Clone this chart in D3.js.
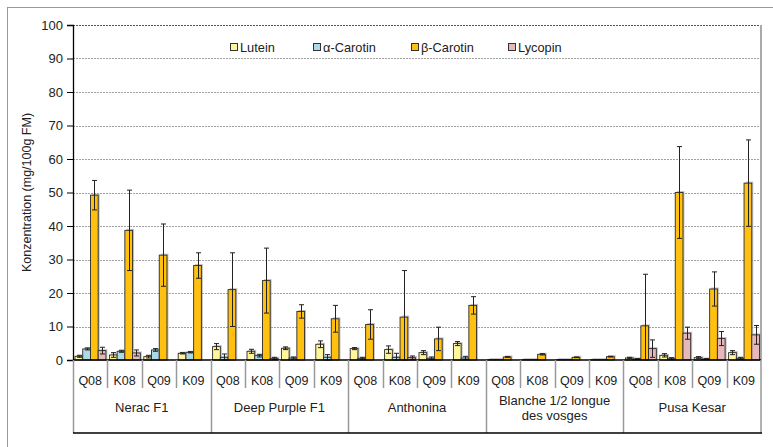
<!DOCTYPE html>
<html><head><meta charset="utf-8">
<script src="https://cdn.jsdelivr.net/npm/d3@7"></script>
<style>body{margin:0;background:#fff}svg{display:block;font-family:"Liberation Sans",Arial,sans-serif}</style>
</head><body><svg id="c" width="773" height="447"></svg>
<script>
const groups = ["Nerac F1","Deep Purple F1","Anthonina","Blanche 1/2 longue\ndes vosges","Pusa Kesar"];
const subcats = ["Q08","K08","Q09","K09"];
const seriesNames = ["Lutein","α-Carotin","β-Carotin","Lycopin"];
const seriesColors = ["#FFF59A","#ADD8E6","#FFC010","#E6B8B8"];
const lutein    = [1.1,1.5,1.0,2.0, 4.0,2.6,3.5,4.7, 3.4,3.1,2.2,4.9, 0.1,0.1,0.1,0.1, 0.6,1.4,0.7,2.2];
const luteinErr = [0.3,0.7,0.4,0.2, 0.9,0.6,0.4,1.0, 0.3,1.1,0.6,0.6, 0,0,0,0, 0.2,0.5,0.3,0.6];
const alpha     = [3.3,2.6,3.0,2.3, 0.8,1.3,0.6,0.8, 0.5,0.8,0.5,0.6, 0.1,0.1,0.1,0.1, 0.3,0.4,0.3,0.5];
const alphaErr  = [0.3,0.3,0.4,0.2, 1.0,0.4,0.3,0.8, 0.3,1.2,0.4,0.5, 0,0,0,0, 0.1,0.3,0.1,0.3];
const beta      = [49.2,38.7,31.3,28.2, 21.0,23.7,14.5,12.3, 10.6,12.8,6.3,16.3, 0.9,1.7,0.8,1.0, 10.2,50.0,21.2,52.8];
const betaErr   = [4.4,12.0,9.3,3.8, 11.0,9.7,2.0,4.0, 4.4,13.9,3.5,2.6, 0.1,0.2,0.1,0.1, 15.4,13.7,5.1,12.9];
const lycopin   = [2.8,2.1,0,0, 0,0.5,0,0, 0,0.7,0,0, 0,0,0,0, 3.4,8.0,6.4,7.5];
const lycopinErr= [1.0,0.9,0,0, 0,0.3,0,0, 0,0.5,0,0, 0,0,0,0, 2.6,1.8,2.1,2.8];
const yTicks = [0,10,20,30,40,50,60,70,80,90,100];
const yTitle = "Konzentration (mg/100g FM)";

const values = [lutein, alpha, beta, lycopin];
const errors = [luteinErr, alphaErr, betaErr, lycopinErr];

const svg = d3.select("#c");
const L = 73, R = 761, T = 25, B = 360;
const keys = d3.range(groups.length * subcats.length);
const x = d3.scaleBand().domain(keys).range([L, R]);
const xs = d3.scaleBand().domain(seriesNames).range([2, x.bandwidth() - 1.5]);
const y = d3.scaleLinear().domain([0, 100]).range([B, T]);

// outer border
svg.append("rect").attr("x",7.5).attr("y",7.5).attr("width",800).attr("height",500)
  .attr("fill","none").attr("stroke","#999").attr("stroke-width",1);

// gridlines
svg.append("g").selectAll("line").data(yTicks.filter(d=>d>0)).join("line")
  .attr("x1",L).attr("x2",R).attr("y1",d=>Math.round(y(d))+0.5).attr("y2",d=>Math.round(y(d))+0.5)
  .attr("stroke",d=>d===100?"#555":"#a0a0a0").attr("stroke-dasharray","2,1").attr("stroke-width",1);
// right plot border
svg.append("line").attr("x1",R).attr("x2",R).attr("y1",T).attr("y2",B).attr("stroke","#aaa").attr("stroke-width",2);

// y axis
const yAxis = d3.axisLeft(y).tickValues(yTicks).tickSize(6).tickPadding(4);
const ga = svg.append("g").attr("transform",`translate(${L},0)`).call(yAxis);
ga.select(".domain").attr("stroke","#000").attr("stroke-width",1.3);
ga.selectAll(".tick line").attr("stroke","#000");
ga.selectAll("text").attr("font-size",13).attr("fill","#222").attr("font-family","Liberation Sans, Arial, sans-serif");

svg.append("text").attr("transform",`translate(31,${(T+B)/2}) rotate(-90)`)
  .attr("text-anchor","middle").attr("font-size",12.5).attr("fill","#222").text(yTitle);

// bars
const bars = [];
values.forEach((arr, s) => arr.forEach((v, i) => bars.push({s, i, v, e: errors[s][i]})));
const gb = svg.append("g");
const drawn = bars.filter(d => d.v > 0);
gb.selectAll("rect.sh").data(drawn).join("rect").attr("class","sh")
  .attr("x", d => x(d.i) + xs(seriesNames[d.s]) + 1.5)
  .attr("y", d => y(d.v) - 1.5)
  .attr("width", xs.bandwidth())
  .attr("height", d => B - y(d.v) + 1)
  .attr("fill", "#999").attr("opacity", 0.6);
gb.selectAll("rect.b").data(drawn).join("rect").attr("class","b")
  .attr("x", d => x(d.i) + xs(seriesNames[d.s]))
  .attr("y", d => y(d.v))
  .attr("width", xs.bandwidth())
  .attr("height", d => B - y(d.v))
  .attr("fill", d => seriesColors[d.s]).attr("stroke", "#2a2a2a").attr("stroke-width", 0.9);

// error bars
const eb = drawn.filter(d => d.e > 0);
const ge = svg.append("g").attr("stroke","#222").attr("stroke-width",1);
eb.forEach(d => {
  const cx = Math.round(x(d.i) + xs(seriesNames[d.s]) + xs.bandwidth()/2) + 0.5;
  const y1 = y(d.v + d.e), y0 = Math.min(B, y(d.v - d.e));
  ge.append("line").attr("x1",cx).attr("x2",cx).attr("y1",y1).attr("y2",y0);
  ge.append("line").attr("x1",cx-2.5).attr("x2",cx+2.5).attr("y1",y1).attr("y2",y1);
  ge.append("line").attr("x1",cx-2.5).attr("x2",cx+2.5).attr("y1",y0).attr("y2",y0);
});

// x axis line
svg.append("line").attr("x1",L).attr("x2",R).attr("y1",B).attr("y2",B).attr("stroke","#000").attr("stroke-width",1.5);

// category axis
const gc = svg.append("g");
keys.forEach(i => {
  const xx = Math.round(x(i)) + 0.5;
  const isGroup = i % subcats.length === 0;
  gc.append("line").attr("x1",xx).attr("x2",xx).attr("y1",B).attr("y2",isGroup?433:388)
    .attr("stroke","#999").attr("stroke-width",1.5);
  gc.append("text").attr("x", x(i) + x.bandwidth()/2).attr("y", 385).attr("text-anchor","middle")
    .attr("font-size",12.5).attr("fill","#222").text(subcats[i % subcats.length]);
});
gc.append("line").attr("x1",R).attr("x2",R).attr("y1",B).attr("y2",433).attr("stroke","#999").attr("stroke-width",1.5);
gc.append("line").attr("x1",L).attr("x2",R+1).attr("y1",433).attr("y2",433).attr("stroke","#000").attr("stroke-width",1.5);
groups.forEach((g, gi) => {
  const cx = x(gi*subcats.length) + x.bandwidth()*subcats.length/2;
  const lines = g.split("\n");
  const t = gc.append("text").attr("x",cx).attr("text-anchor","middle").attr("font-size",13).attr("fill","#222");
  if (lines.length === 1) t.attr("y",412).text(g);
  else lines.forEach((ln, k) => t.append("tspan").attr("x",cx).attr("y",405 + k*15).text(ln));
});

// legend
const legX = [230, 313, 411, 508];
const gl = svg.append("g");
seriesNames.forEach((n, s) => {
  gl.append("rect").attr("x",legX[s]+0.5).attr("y",43.5).attr("width",7).attr("height",7)
    .attr("fill",seriesColors[s]).attr("stroke","#333").attr("stroke-width",1);
  gl.append("text").attr("x",legX[s]+10).attr("y",51.5).attr("font-size",12.8).attr("fill","#222").text(n);
});
</script></body></html>
